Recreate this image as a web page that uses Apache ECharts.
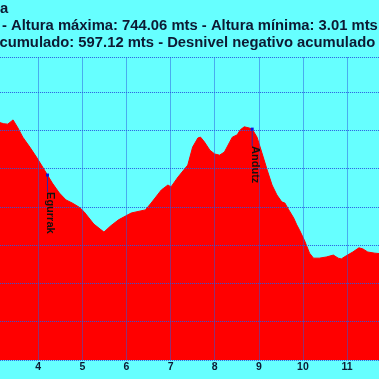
<!DOCTYPE html>
<html>
<head>
<meta charset="utf-8">
<script src="https://cdn.jsdelivr.net/npm/echarts@6/dist/echarts.min.js"></script>
<style>
html,body{margin:0;padding:0;background:#66ffff;overflow:hidden;width:379px;height:379px;position:relative;}
#chart{position:absolute;left:-20px;top:0;width:420px;height:379px;}
</style>
</head>
<body>
<div id="chart"></div>
<script>
// Distance (km) and elevation (m) of the profile
const kmValues = [3.00, 3.13, 3.22, 3.31, 3.43, 3.54, 3.65, 3.81, 3.96, 4.10, 4.21, 4.32, 4.48, 4.63, 4.77, 4.93, 5.04, 5.15, 5.26, 5.49, 5.64, 5.82, 6.11, 6.43, 6.56, 6.79, 6.94, 7.01, 7.17, 7.39, 7.50, 7.62, 7.68, 7.77, 7.89, 8.00, 8.11, 8.22, 8.33, 8.40, 8.51, 8.58, 8.67, 8.78, 8.85, 8.96, 9.07, 9.19, 9.30, 9.41, 9.52, 9.59, 9.68, 9.79, 9.86, 9.92, 10.04, 10.15, 10.24, 10.37, 10.53, 10.69, 10.80, 10.87, 10.98, 11.13, 11.27, 11.36, 11.47, 11.63, 12.00];
const elevValues = [620, 620, 617, 616, 627, 606, 582, 556, 530, 504, 483, 462, 436, 418, 410, 399, 387, 371, 355, 334, 350, 366, 384, 392, 410, 444, 457, 452, 478, 509, 556, 580, 582, 569, 548, 538, 535, 543, 567, 582, 588, 601, 609, 606, 603, 582, 541, 496, 457, 431, 413, 410, 392, 371, 353, 340, 311, 279, 266, 266, 269, 274, 266, 264, 272, 282, 293, 290, 282, 279, 275];
// Named points along the track
const poiNames = ['Egurrak', 'Andutz'];
const poiKm = [4.21, 8.85];
const poiElev = [483, 603];
// Axis ticks
const xTickMin = 3, xTickMax = 12, xTickStep = 1;
const yMin = 0, yMax = 790, yStep = 100;
// Title lines (visible part)
const titleLine1 = 'a';
const titleLine2 = '- Altura máxima: 744.06 mts - Altura mínima: 3.01 mts';
const titleLine3 = 'acumulado: 597.12 mts - Desnivel negativo acumulado';

const profile = kmValues.map((k, i) => [k, elevValues[i]]);
const poiData = poiKm.map((k, i) => [k, poiElev[i]]);

const chart = echarts.init(document.getElementById('chart'), null, {renderer: 'canvas'});
const txtColor = '#0d1a33';
const gridColor = '#2a5ae0';
const titleFont = 'bold 14.8px "Liberation Sans", Arial, sans-serif';
const off = 20; // the chart canvas starts 20px left of the page

chart.setOption({
  backgroundColor: '#66ffff',
  animation: false,
  grid: {left: 14.1, right: 4.4, top: 57.5, bottom: 19, containLabel: false},
  xAxis: {
    type: 'value', min: xTickMin, max: xTickMax, interval: xTickStep, z: 3,
    axisLine: {show: false}, axisTick: {show: false},
    axisLabel: {color: txtColor, fontWeight: 'bold', fontSize: 10.5, fontFamily: 'Liberation Sans', margin: 2},
    splitLine: {show: true, lineStyle: {color: gridColor, type: [1, 1], width: 1}}
  },
  yAxis: {
    type: 'value', min: yMin, max: yMax, interval: yStep, z: 3,
    axisLine: {show: false}, axisTick: {show: false}, axisLabel: {show: false},
    splitLine: {show: true, lineStyle: {color: gridColor, type: [1, 1], width: 1}}
  },
  graphic: [
    {type: 'text', x: off + 0, y: 9, style: {text: titleLine1, font: titleFont, fill: txtColor, align: 'left', verticalAlign: 'middle'}},
    {type: 'text', x: off + 2, y: 26, style: {text: titleLine2, font: titleFont, fill: txtColor, align: 'left', verticalAlign: 'middle'}},
    {type: 'text', x: off - 8.8, y: 43, style: {text: titleLine3, font: titleFont, fill: txtColor, align: 'left', verticalAlign: 'middle'}}
  ],
  series: [
    {
      type: 'line', data: profile, symbol: 'none', z: 1,
      lineStyle: {color: '#ff0000', width: 1},
      areaStyle: {color: '#ff0000', opacity: 1}
    },
    {
      type: 'custom', data: poiData, z: 5,
      renderItem: function (params, api) {
        const p = api.coord([api.value(0), api.value(1)]);
        const name = poiNames[params.dataIndex];
        return {
          type: 'group',
          children: [
            {type: 'line', shape: {x1: p[0], y1: p[1], x2: p[0], y2: p[1] + 17}, style: {stroke: '#2a2ab0', lineWidth: 1}},
            {type: 'rect', shape: {x: p[0] - 1.5, y: p[1] - 1.5, width: 3, height: 3}, style: {fill: '#1010e0'}},
            {type: 'text', x: p[0] + 3, y: p[1] + 17, rotation: -Math.PI / 2,
              style: {text: name, font: 'bold 11px "Liberation Sans", Arial, sans-serif', fill: '#111111', align: 'left', verticalAlign: 'middle'}}
          ]
        };
      }
    }
  ]
});
</script>
</body>
</html>
